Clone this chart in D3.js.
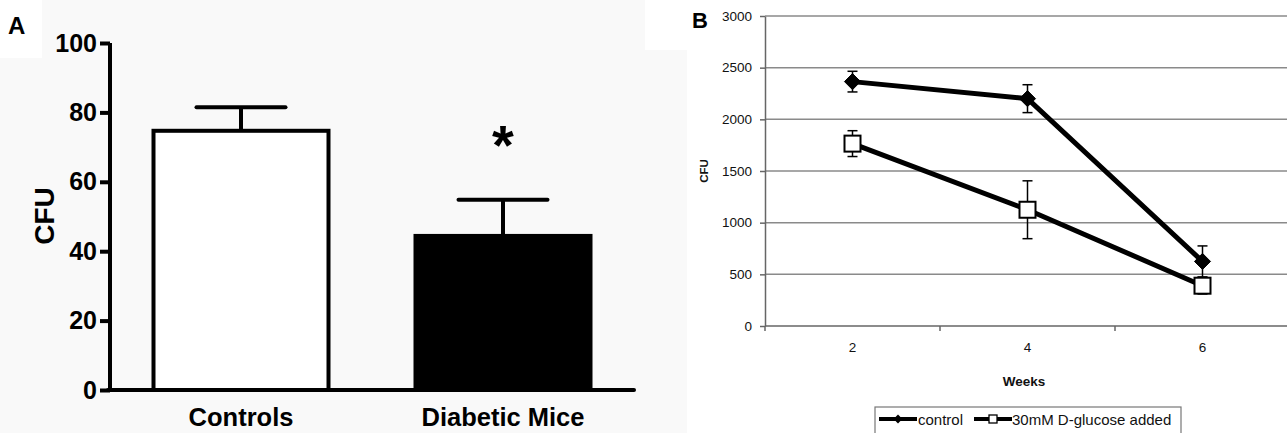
<!DOCTYPE html>
<html><head><meta charset="utf-8">
<script src="https://cdn.jsdelivr.net/npm/d3@7"></script>
<style>body{margin:0;background:#fff}svg{display:block;font-family:Arial,"Liberation Sans",sans-serif}</style>
</head><body>
<svg id="c" width="1287" height="433"></svg>
<script>
// ---- Panel A data ----
const groupsA = ["Controls", "Diabetic Mice"];
const meansA = [74.7, 44.4];
const errA = [6.8, 10.4];
const fillsA = ["#ffffff", "#000000"];
const ticksA = [0, 20, 40, 60, 80, 100];
// ---- Panel B data ----
const weeksB = ["2", "4", "6"];
const controlB = [2365, 2200, 625];
const controlErrB = [100, 135, 150];
const glucoseB = [1765, 1125, 390];
const glucoseErrB = [125, 280, 80];
const ticksB = [0, 500, 1000, 1500, 2000, 2500, 3000];
const seriesNames = ["control", "30mM D-glucose added"];

const svg = d3.select("#c");
// backgrounds
svg.append("rect").attr("x",0).attr("y",0).attr("width",687).attr("height",433).attr("fill","#f9f9f9");
svg.append("rect").attr("x",0).attr("y",0).attr("width",42).attr("height",58).attr("fill","#ffffff");
svg.append("rect").attr("x",645).attr("y",0).attr("width",42).attr("height",50).attr("fill","#ffffff");

// ================= Panel A =================
const yA = d3.scaleLinear().domain([0,100]).range([390,43]);
const xA = d3.scalePoint().domain(groupsA).range([110,634]).padding(0.5);
const barW = 175, capW = 89;
const gA = svg.append("g");

groupsA.forEach((g,i)=>{
  const cx = xA(g);
  gA.append("line").attr("x1",cx).attr("x2",cx).attr("y1",yA(meansA[i])).attr("y2",yA(meansA[i]+errA[i]))
    .attr("stroke","#000").attr("stroke-width",4);
  gA.append("line").attr("x1",cx-capW/2).attr("x2",cx+capW/2).attr("y1",yA(meansA[i]+errA[i])).attr("y2",yA(meansA[i]+errA[i]))
    .attr("stroke","#000").attr("stroke-width",4).attr("stroke-linecap","round");
});
gA.selectAll("rect.bar").data(groupsA).enter().append("rect").attr("class","bar")
  .attr("x",d=>xA(d)-barW/2).attr("width",barW)
  .attr("y",(d,i)=>yA(meansA[i])).attr("height",(d,i)=>yA(0)-yA(meansA[i]))
  .attr("fill",(d,i)=>fillsA[i]).attr("stroke","#000").attr("stroke-width",4);

const axA = gA.append("g").attr("transform","translate(110,0)")
  .call(d3.axisLeft(yA).tickValues(ticksA).tickSize(10).tickPadding(3).tickSizeOuter(0));
axA.select(".domain").attr("stroke","#000").attr("stroke-width",4).attr("d","M0,"+(yA(0)+2)+"V"+yA(100));
axA.selectAll(".tick line").attr("stroke","#000").attr("stroke-width",4);
axA.selectAll(".tick text").attr("font-size",25).attr("font-weight","bold").attr("fill","#000")
  .attr("font-family","Arial, Liberation Sans, sans-serif");
gA.append("line").attr("x1",108).attr("x2",634).attr("y1",yA(0)).attr("y2",yA(0))
  .attr("stroke","#000").attr("stroke-width",4).attr("stroke-linecap","round");
gA.selectAll("text.cat").data(groupsA).enter().append("text").attr("class","cat")
  .attr("x",d=>xA(d)).attr("y",426).attr("text-anchor","middle")
  .attr("font-size",25.5).attr("font-weight","bold").text(d=>d);
gA.append("text").attr("transform","translate(54,216) rotate(-90)").attr("text-anchor","middle")
  .attr("font-size",28).attr("font-weight","bold").text("CFU");
gA.append("text").attr("x",xA(groupsA[1])).attr("y",164).attr("text-anchor","middle")
  .attr("font-size",56).attr("font-weight","bold").text("*");
gA.append("text").attr("x",8).attr("y",34).attr("font-size",24).attr("font-weight","bold").text("A");

// ================= Panel B =================
const yB = d3.scaleLinear().domain([0,3000]).range([326,16]);
const xB = d3.scaleBand().domain(weeksB).range([765,1290]);
const gB = svg.append("g");
gB.selectAll("line.grid").data(ticksB.filter(t=>t>0)).enter().append("line").attr("class","grid")
  .attr("x1",765).attr("x2",1287).attr("y1",d=>yB(d)).attr("y2",d=>yB(d))
  .attr("stroke","#8a8a8a").attr("stroke-width",1.5);
const axB = gB.append("g").attr("transform","translate(765,0)")
  .call(d3.axisLeft(yB).tickValues(ticksB).tickFormat(d3.format("d")).tickSize(5).tickPadding(8).tickSizeOuter(0));
axB.select(".domain").attr("stroke","#666").attr("stroke-width",1.5);
axB.selectAll(".tick line").attr("stroke","#666").attr("stroke-width",1.5);
axB.selectAll(".tick text").attr("font-size",13.5).attr("fill","#111").attr("font-family","Arial, Liberation Sans, sans-serif");
gB.append("line").attr("x1",765).attr("x2",1287).attr("y1",yB(0)).attr("y2",yB(0)).attr("stroke","#666").attr("stroke-width",1.5);
gB.selectAll("line.xt").data(weeksB).enter().append("line").attr("class","xt")
  .attr("x1",d=>xB(d)).attr("x2",d=>xB(d)).attr("y1",yB(0)).attr("y2",yB(0)+5)
  .attr("stroke","#666").attr("stroke-width",1.5);
gB.selectAll("text.xl").data(weeksB).enter().append("text").attr("class","xl")
  .attr("x",d=>xB(d)+xB.bandwidth()/2).attr("y",352).attr("text-anchor","middle")
  .attr("font-size",13.5).attr("fill","#111").text(d=>d);
gB.append("text").attr("x",1024).attr("y",386).attr("text-anchor","middle")
  .attr("font-size",13.5).attr("font-weight","bold").attr("fill","#111").text("Weeks");
gB.append("text").attr("transform","translate(708,171) rotate(-90)").attr("text-anchor","middle")
  .attr("font-size",11.5).attr("font-weight","bold").attr("fill","#111").text("CFU");
gB.append("text").attr("x",692).attr("y",28).attr("font-size",22).attr("font-weight","bold").text("B");

const cx = d=>xB(d)+xB.bandwidth()/2;
const line = d3.line().x(d=>cx(d.w)).y(d=>yB(d.v));
function drawSeries(vals, errs, marker){
  const pts = weeksB.map((w,i)=>({w, v:vals[i], e:errs[i]}));
  const g = gB.append("g");
  pts.forEach(p=>{
    g.append("line").attr("x1",cx(p.w)).attr("x2",cx(p.w)).attr("y1",yB(p.v-p.e)).attr("y2",yB(p.v+p.e))
      .attr("stroke","#000").attr("stroke-width",1.5);
    [p.v-p.e, p.v+p.e].forEach(v=>g.append("line").attr("x1",cx(p.w)-5).attr("x2",cx(p.w)+5)
      .attr("y1",yB(v)).attr("y2",yB(v)).attr("stroke","#000").attr("stroke-width",1.5));
  });
  g.append("path").datum(pts).attr("d",line).attr("fill","none").attr("stroke","#000").attr("stroke-width",5);
  pts.forEach(p=>{
    if(marker==="diamond"){
      g.append("path").attr("d",d3.symbol(d3.symbolDiamond2||d3.symbolDiamond, 165)())
        .attr("transform",`translate(${cx(p.w)},${yB(p.v)})`)
        .attr("fill","#000").attr("stroke","#000").attr("stroke-width",1);
    } else {
      g.append("rect").attr("x",cx(p.w)-8).attr("y",yB(p.v)-8).attr("width",16).attr("height",16)
        .attr("fill","#fff").attr("stroke","#000").attr("stroke-width",2);
    }
  });
}
drawSeries(glucoseB, glucoseErrB, "square");
drawSeries(controlB, controlErrB, "diamond");

const lg = gB.append("g");
lg.append("rect").attr("x",875).attr("y",407).attr("width",306).attr("height",40).attr("fill","#fff").attr("stroke","#777").attr("stroke-width",1.2);
lg.append("line").attr("x1",879).attr("x2",917).attr("y1",419).attr("y2",419).attr("stroke","#000").attr("stroke-width",4);
lg.append("path").attr("d",d3.symbol(d3.symbolDiamond2||d3.symbolDiamond, 50)()).attr("transform","translate(898,419)").attr("fill","#000");
lg.append("text").attr("x",918).attr("y",424.5).attr("font-size",15).attr("fill","#111").text(seriesNames[0]);
lg.append("line").attr("x1",974).attr("x2",1012).attr("y1",419).attr("y2",419).attr("stroke","#000").attr("stroke-width",4);
lg.append("rect").attr("x",989).attr("y",415).attr("width",8).attr("height",8).attr("fill","#fff").attr("stroke","#000").attr("stroke-width",1.3);
lg.append("text").attr("x",1012).attr("y",424.5).attr("font-size",15).attr("fill","#111").text(seriesNames[1]);
</script>
</body></html>
